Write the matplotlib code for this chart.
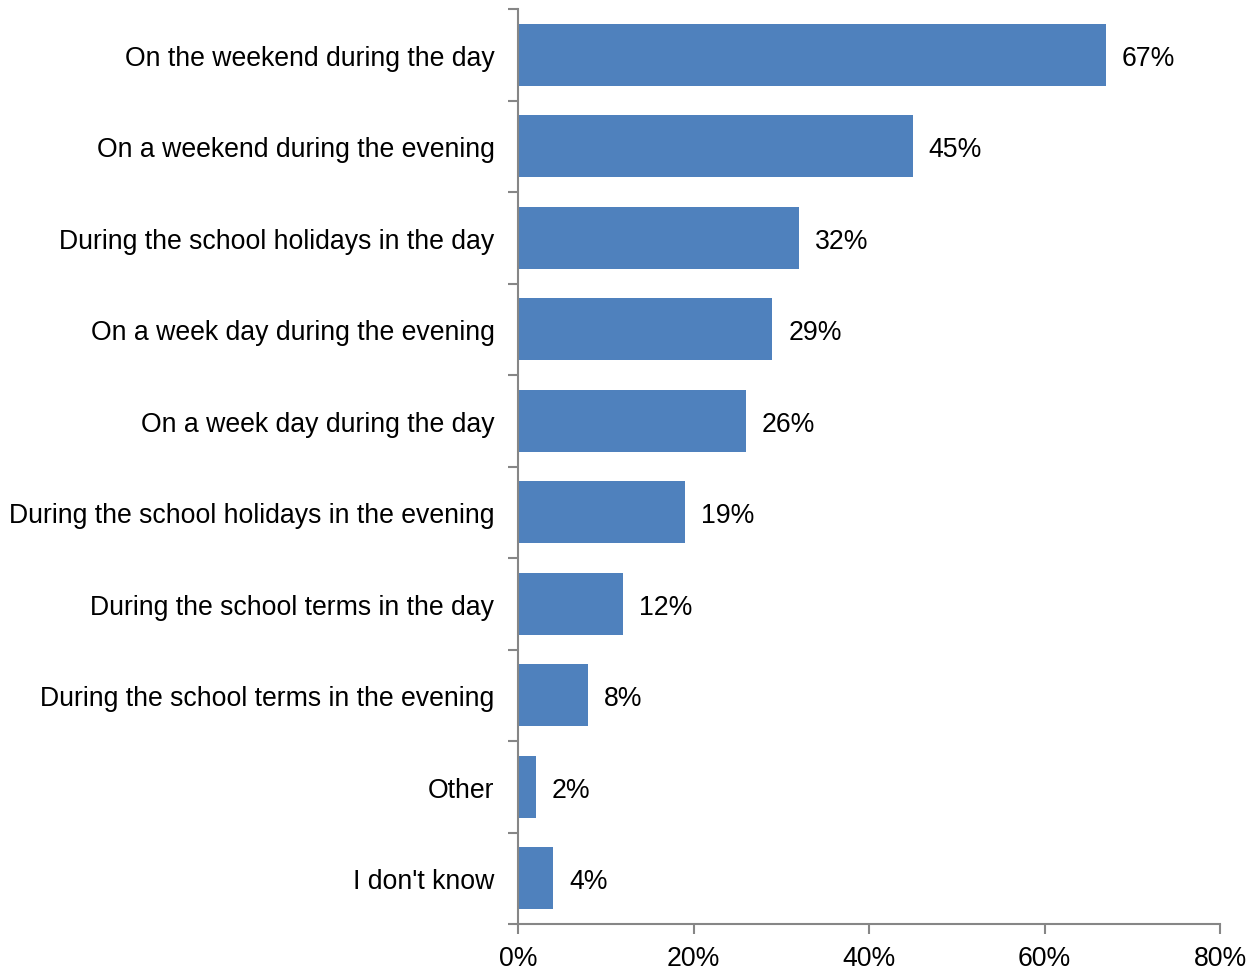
import matplotlib
matplotlib.use("Agg")
import matplotlib.pyplot as plt
from matplotlib.ticker import FuncFormatter, MultipleLocator, FixedLocator

plt.rcParams['font.family'] = ['Liberation Sans', 'DejaVu Sans']

categories = [
    "On the weekend during the day",
    "On a weekend during the evening",
    "During the school holidays in the day",
    "On a week day during the evening",
    "On a week day during the day",
    "During the school holidays in the evening",
    "During the school terms in the day",
    "During the school terms in the evening",
    "Other",
    "I don't know",
]
values = [67, 45, 32, 29, 26, 19, 12, 8, 2, 4]

FS = 19.2

fig = plt.figure(figsize=(12.56, 9.70), dpi=100)
ax = fig.add_axes([518 / 1256, 1 - 925 / 970, (1220 - 518) / 1256, (925 - 10) / 970])

n = len(categories)
ypos = list(range(n))
ax.barh(ypos, values, height=0.68, color="#4F81BD", edgecolor="none")

for y, v in zip(ypos, values):
    ax.text(v + 1.8, y, f"{v}%", va="center_baseline", ha="left", fontsize=FS, color="black")

ax.set_xlim(0, 80)
ax.set_ylim(n - 0.5, -0.5)
ax.xaxis.set_major_locator(MultipleLocator(20))
ax.xaxis.set_major_formatter(FuncFormatter(lambda x, p: f"{int(x)}%"))

ax.set_yticks(ypos)
ax.set_yticklabels(categories)
ax.yaxis.set_minor_locator(FixedLocator([i - 0.5 for i in range(n + 1)]))
ax.tick_params(axis="y", which="major", length=0, pad=17, labelsize=FS)
ax.tick_params(axis="y", which="minor", length=7, width=1.5, color="#868686", direction="out")
ax.tick_params(axis="x", which="major", length=7, width=1.5, color="#868686",
               direction="out", labelsize=FS, pad=8)

for side in ("top", "right"):
    ax.spines[side].set_visible(False)
for side in ("left", "bottom"):
    ax.spines[side].set_color("#868686")
    ax.spines[side].set_linewidth(1.5)

fig.savefig("out.png", dpi=100, facecolor="white")
